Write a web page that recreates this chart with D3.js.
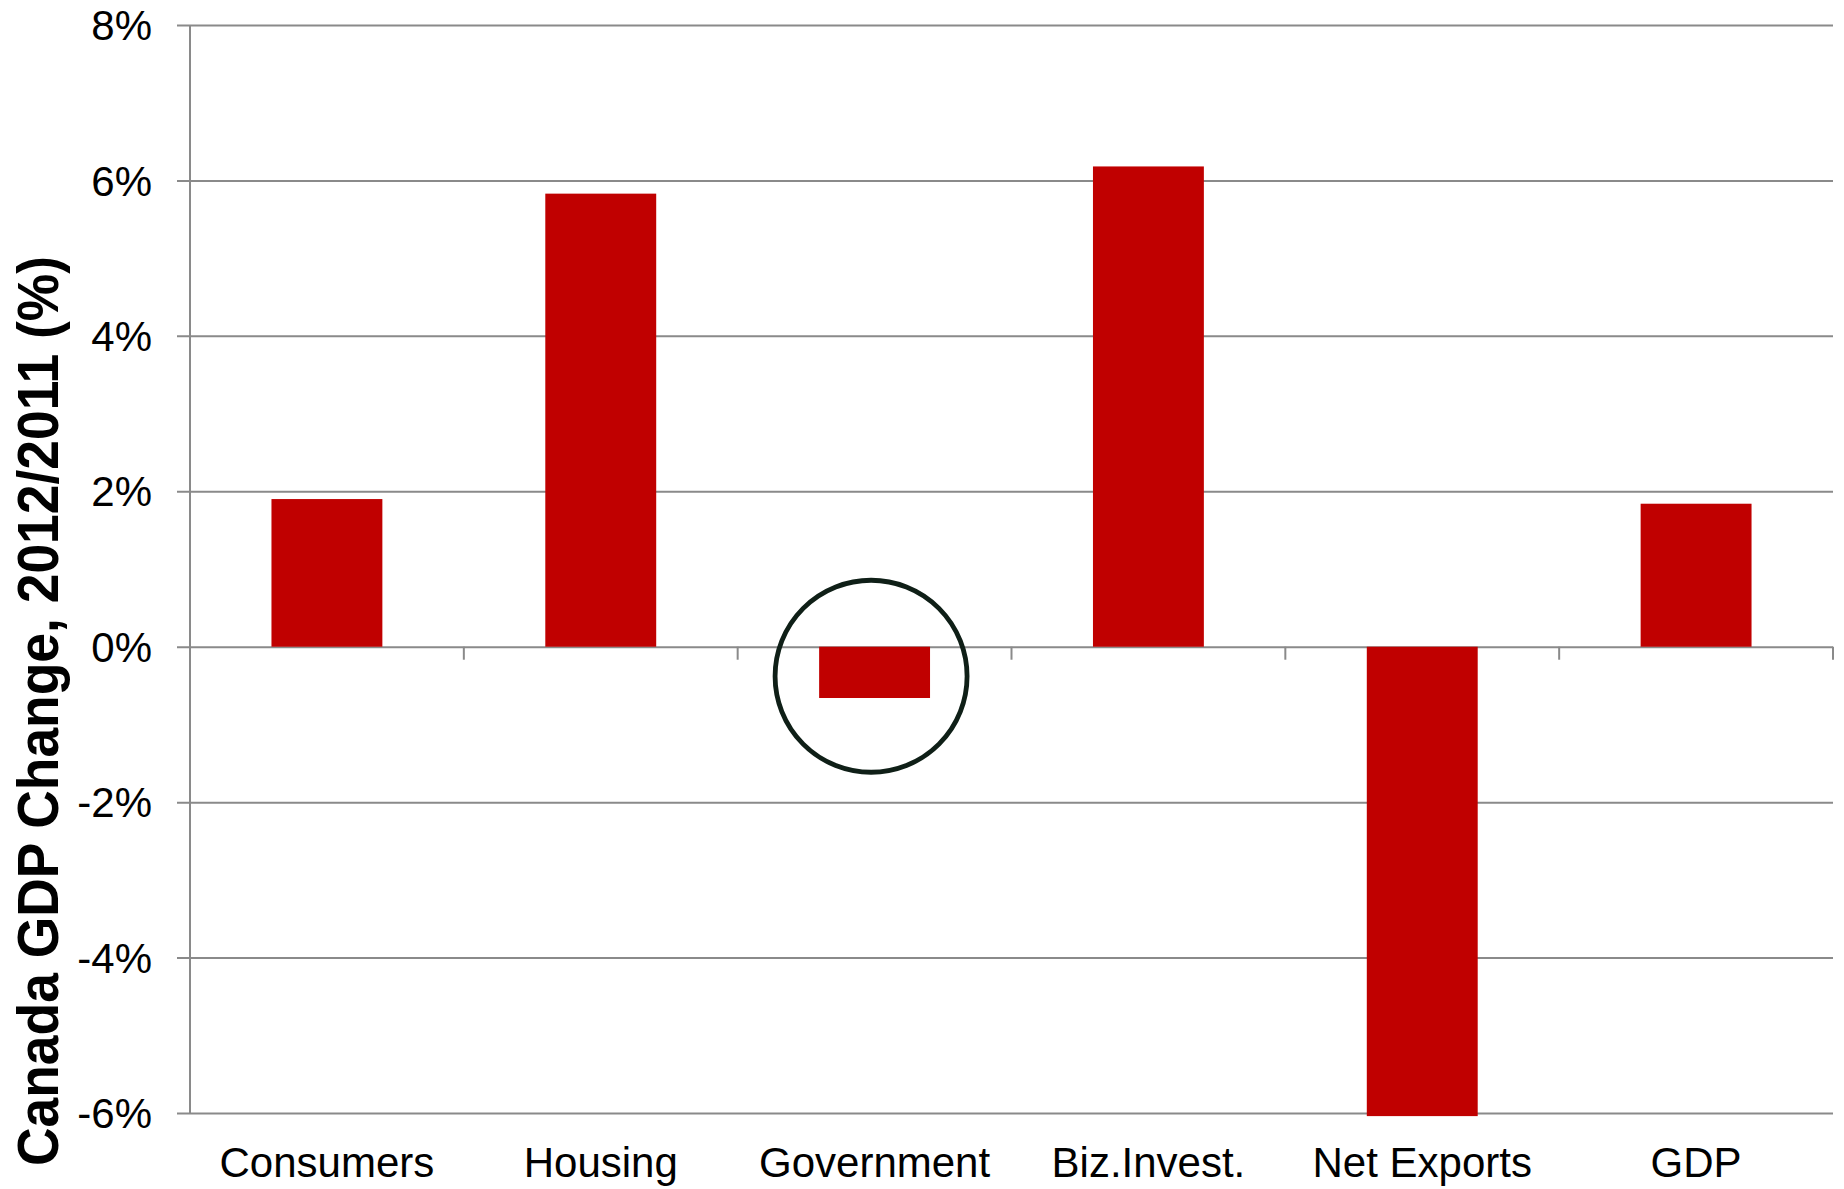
<!DOCTYPE html>
<html>
<head>
<meta charset="utf-8">
<script src="https://cdn.jsdelivr.net/npm/d3@7"></script>
<style>
  html, body { margin: 0; padding: 0; background: #ffffff; }
  svg { display: block; }
  text { font-family: "Liberation Sans", Arial, Helvetica, sans-serif; fill: #000; }
</style>
</head>
<body>
<svg id="chart" width="1844" height="1189"></svg>
<script>
// Contributions to Canadian GDP growth, 2012 vs 2011 (%)
const categories = ["Consumers", "Housing", "Government", "Biz.Invest.", "Net Exports", "GDP"];
const changes = [1.90, 5.83, -0.66, 6.18, -6.04, 1.84];
const tickValues = [-6, -4, -2, 0, 2, 4, 6, 8];
const yTitle = "Canada GDP Change, 2012/2011 (%)";
// highlighted category and the value level at which its ring is centred
const highlightCategory = ["Government"];
const highlightLevel = [-0.38];

const svg = d3.select("#chart");
const plot = { left: 190, right: 1833, top: 25, bottom: 1113 };
const gridColor = "#8a8a8a";

const x = d3.scaleBand()
  .domain(categories)
  .range([plot.left, plot.right])
  .paddingInner(0.595)
  .paddingOuter(0.2975);

const y = d3.scaleLinear()
  .domain([d3.min(tickValues), d3.max(tickValues)])
  .range([plot.bottom, plot.top]);

// horizontal gridlines with short ticks to the left of the axis
const yAxis = d3.axisLeft(y)
  .tickValues(tickValues)
  .tickSize(-(plot.right - plot.left))
  .tickSizeOuter(0)
  .tickPadding(25)
  .tickFormat(d => d + "%");

const gy = svg.append("g")
  .attr("transform", `translate(${plot.left},0)`)
  .call(yAxis);
gy.select(".domain").remove();
gy.selectAll(".tick line")
  .attr("x1", -13)
  .attr("stroke", gridColor)
  .attr("stroke-width", 2);
gy.selectAll(".tick text")
  .attr("font-size", 42)
  .attr("x", -38)
  .attr("dy", "0.35em");

// vertical axis line
svg.append("line")
  .attr("x1", plot.left).attr("x2", plot.left)
  .attr("y1", plot.top).attr("y2", plot.bottom)
  .attr("stroke", gridColor)
  .attr("stroke-width", 2);

// category boundary ticks hanging below the zero line
const step = x.step();
const boundaries = d3.range(categories.length + 1).map(i => plot.left + i * step);
svg.append("g").selectAll("line")
  .data(boundaries)
  .join("line")
  .attr("x1", d => d).attr("x2", d => d)
  .attr("y1", y(0)).attr("y2", y(0) + 13)
  .attr("stroke", gridColor)
  .attr("stroke-width", 2);

// bars
svg.append("g").selectAll("rect")
  .data(categories.map((c, i) => ({ c, v: changes[i] })))
  .join("rect")
  .attr("x", d => x(d.c))
  .attr("width", x.bandwidth())
  .attr("y", d => y(Math.max(0, d.v)))
  .attr("height", d => Math.abs(y(d.v) - y(0)))
  .attr("fill", "#c00000");

// category labels
svg.append("g").selectAll("text")
  .data(categories)
  .join("text")
  .attr("x", d => x(d) + x.bandwidth() / 2)
  .attr("y", 1177)
  .attr("text-anchor", "middle")
  .attr("font-size", 42)
  .text(d => d);

// ring around the highlighted bar
svg.append("circle")
  .attr("cx", x(highlightCategory[0]) + x.bandwidth() / 2 - 3.5)
  .attr("cy", y(highlightLevel[0]))
  .attr("r", 96)
  .attr("fill", "none")
  .attr("stroke", "#0f1f17")
  .attr("stroke-width", 4.8);

// y-axis title (glyphs slightly tall relative to their advance)
svg.append("text")
  .attr("transform", "translate(58,711) rotate(-90) scale(1,1.06)")
  .attr("text-anchor", "middle")
  .attr("font-size", 53.4)
  .attr("font-weight", "bold")
  .text(yTitle);
</script>
</body>
</html>
